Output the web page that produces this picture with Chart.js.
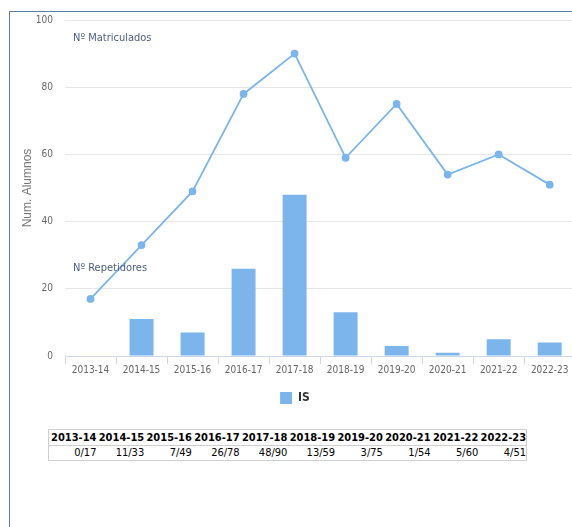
<!DOCTYPE html>
<html>
<head>
<meta charset="utf-8">
<script src="https://cdn.jsdelivr.net/npm/chart.js@4/dist/chart.umd.min.js"></script>
<style>
  html, body { margin: 0; padding: 0; background: #fff; overflow: hidden; }
  body { width: 572px; height: 527px; position: relative; font-family: "DejaVu Sans Condensed", "DejaVu Sans", sans-serif; }
  #frame { position: absolute; left: 9px; top: 11px; width: 600px; height: 600px;
           border-left: 1px solid #5b7ca8; border-top: 1px solid #5b7ca8; }
  #wrap { position: absolute; left: 10px; top: 2px; width: 570px; height: 412px; }
  table { position: absolute; left: 48px; top: 429px; border-collapse: collapse;
          border: 1px solid #cfcfcf; font-size: 11px; color: #000; }
  th { font-weight: bold; padding: 1px 0.3px 1px 2px; border-bottom: 1px solid #cfcfcf; white-space: nowrap; }
  td { text-align: right; padding: 0 0.3px 1px 2px; }
</style>
</head>
<body>
<div id="frame"></div>
<div id="wrap"><canvas id="chart"></canvas></div>
<table id="tbl"><thead><tr id="head"></tr></thead><tbody><tr id="vals"></tr></tbody></table>
<script>
const years = ["2013-14", "2014-15", "2015-16", "2016-17", "2017-18", "2018-19", "2019-20", "2020-21", "2021-22", "2022-23"];
const repetidores = [0, 11, 7, 26, 48, 13, 3, 1, 5, 4];
const matriculados = [17, 33, 49, 78, 90, 59, 75, 54, 60, 51];
const yTicks = [0, 20, 40, 60, 80, 100];

const blue = "#7cb5ec";
const font = "'DejaVu Sans Condensed', 'DejaVu Sans', sans-serif";

// table below the chart
const head = document.getElementById("head");
const vals = document.getElementById("vals");
years.forEach((y, i) => {
  const th = document.createElement("th");
  th.textContent = y;
  head.appendChild(th);
  const td = document.createElement("td");
  td.textContent = repetidores[i] + "/" + matriculados[i];
  vals.appendChild(td);
});

// the two series labels written inside the plot
const seriesLabels = {
  id: "seriesLabels",
  afterDraw(chart) {
    const { ctx, chartArea, scales } = chart;
    ctx.save();
    ctx.font = "11px " + font;
    ctx.fillStyle = "#4d5e7a";
    ctx.textBaseline = "middle";
    ctx.fillText("Nº Matriculados", chartArea.left + 8, scales.y.getPixelForValue(94.5));
    ctx.fillText("Nº Repetidores", chartArea.left + 8, scales.y.getPixelForValue(26));
    ctx.restore();
  }
};

new Chart(document.getElementById("chart"), {
  data: {
    labels: years,
    datasets: [
      {
        type: "line",
        label: "Matriculados",
        data: matriculados,
        borderColor: blue,
        backgroundColor: blue,
        borderWidth: 1.8,
        pointRadius: 3,
        pointHoverRadius: 3,
        tension: 0,
        order: 0
      },
      {
        type: "bar",
        label: "IS",
        data: repetidores,
        backgroundColor: blue,
        barPercentage: 0.47,
        categoryPercentage: 1,
        order: 1
      }
    ]
  },
  options: {
    responsive: true,
    maintainAspectRatio: false,
    animation: false,
    layout: { padding: { top: 7, right: 0, left: 0, bottom: 0 } },
    plugins: {
      tooltip: { enabled: false },
      legend: {
        position: "bottom",
        labels: {
          filter: item => item.text === "IS",
          boxWidth: 12,
          boxHeight: 12,
          padding: 16,
          color: "#333",
          font: { family: font, size: 12, weight: "bold" }
        }
      }
    },
    scales: {
      x: {
        offset: true,
        grid: { offset: true, drawOnChartArea: false, drawTicks: true, tickLength: 8, color: "#ccd6eb" },
        border: { color: "#ccd6eb" },
        ticks: { color: "#666", font: { family: font, size: 10 }, maxRotation: 0, padding: 0 }
      },
      y: {
        min: 0,
        max: 100,
        afterBuildTicks: s => { s.ticks = yTicks.map(v => ({ value: v })); },
        afterFit: s => { s.width = 55; },
        grid: { color: "#e6e6e6", drawTicks: false },
        border: { display: false },
        ticks: { color: "#666", font: { family: font, size: 10 }, padding: 12 },
        title: { display: true, text: "Num. Alumnos", color: "#777", font: { family: "'Liberation Sans', Arial, sans-serif", size: 12 }, padding: { top: 10, bottom: 0 } }
      }
    }
  },
  plugins: [seriesLabels]
});
</script>
</body>
</html>
